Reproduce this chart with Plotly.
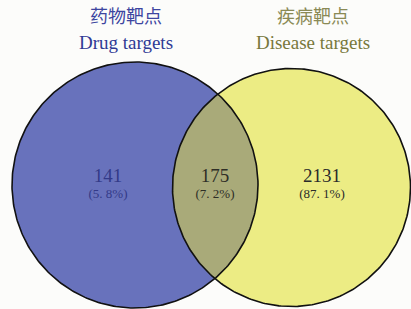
import numpy as np
import plotly.graph_objects as go

# ---- data ----
set_names_cn = ["药物靶点", "疾病靶点"]
set_names_en = ["Drug targets", "Disease targets"]
region_counts = [141, 175, 2131]          # drug only, shared, disease only
region_percents = ["5. 8%", "7. 2%", "87. 1%"]

# ---- geometry (pixel-like data coordinates) ----
W, H = 411, 309
c1 = (135.0, 185.0); r1 = 123.0
c2 = (291.5, 187.5); r2 = 119.0

blue = "#6872BC"
yellow = "#ECEC84"
olive = "#A9AA79"

fig = go.Figure()

# lens (intersection) polygon
dx, dy = c2[0] - c1[0], c2[1] - c1[1]
d = np.hypot(dx, dy)
phi = np.arctan2(dy, dx)
alpha = np.arccos((d**2 + r1**2 - r2**2) / (2 * d * r1))
beta = np.arccos((d**2 + r2**2 - r1**2) / (2 * d * r2))
t1 = np.linspace(phi - alpha, phi + alpha, 120)
t2 = np.linspace(phi + np.pi - beta, phi + np.pi + beta, 120)
lx = np.concatenate([c1[0] + r1 * np.cos(t1), c2[0] + r2 * np.cos(t2)])
ly = np.concatenate([c1[1] + r1 * np.sin(t1), c2[1] + r2 * np.sin(t2)])

shapes = [
    dict(type="circle", xref="x", yref="y", x0=c1[0]-r1, x1=c1[0]+r1, y0=c1[1]-r1, y1=c1[1]+r1,
         fillcolor=blue, line=dict(width=0), layer="below"),
    dict(type="circle", xref="x", yref="y", x0=c2[0]-r2, x1=c2[0]+r2, y0=c2[1]-r2, y1=c2[1]+r2,
         fillcolor=yellow, line=dict(width=0), layer="below"),
]
fig.add_trace(go.Scatter(x=lx, y=ly, fill="toself", fillcolor=olive, mode="lines",
                         line=dict(width=0), hoverinfo="skip", showlegend=False))

# outlines on top
for (c, r) in [(c1, r1), (c2, r2)]:
    t = np.linspace(0, 2 * np.pi, 361)
    fig.add_trace(go.Scatter(x=c[0] + r * np.cos(t), y=c[1] + r * np.sin(t), mode="lines",
                             line=dict(color="#111111", width=1.6), hoverinfo="skip", showlegend=False))

serif = "Liberation Serif, Times New Roman, serif"
cjk = "Noto Sans CJK SC, sans-serif"

# set titles
title_x = [126, 313]
cn_colors = ["#3D45A0", "#8A8A55"]
en_colors = ["#2F3A95", "#78783C"]
fig.add_trace(go.Scatter(x=title_x, y=[18, 18], mode="text", text=set_names_cn,
                         textfont=dict(family=cjk, size=18, color=cn_colors),
                         hoverinfo="skip", showlegend=False))
fig.add_trace(go.Scatter(x=title_x, y=[44, 44], mode="text", text=set_names_en,
                         textfont=dict(family=serif, size=19, color=en_colors),
                         hoverinfo="skip", showlegend=False))

# region labels
region_x = [108, 215, 322]
num_colors = ["#333A88", "#2E2E26", "#2A2A2A"]
fig.add_trace(go.Scatter(x=region_x, y=[177, 177, 177], mode="text",
                         text=[str(v) for v in region_counts],
                         textfont=dict(family=serif, size=19, color=num_colors),
                         hoverinfo="skip", showlegend=False))
fig.add_trace(go.Scatter(x=region_x, y=[195, 195, 195], mode="text",
                         text=["(" + p + ")" for p in region_percents],
                         textfont=dict(family=serif, size=13, color=num_colors),
                         hoverinfo="skip", showlegend=False))

fig.update_layout(
    width=W, height=H, margin=dict(l=0, r=0, t=0, b=0),
    paper_bgcolor="#FCFCFA", plot_bgcolor="#FCFCFA",
    shapes=shapes,
    xaxis=dict(range=[0, W], visible=False, fixedrange=True),
    yaxis=dict(range=[H, 0], visible=False, fixedrange=True),
    showlegend=False,
)
fig.write_html("out.html", config={"displayModeBar": False},
               post_script="document.body.style.margin='0px';document.body.style.overflow='hidden';")
